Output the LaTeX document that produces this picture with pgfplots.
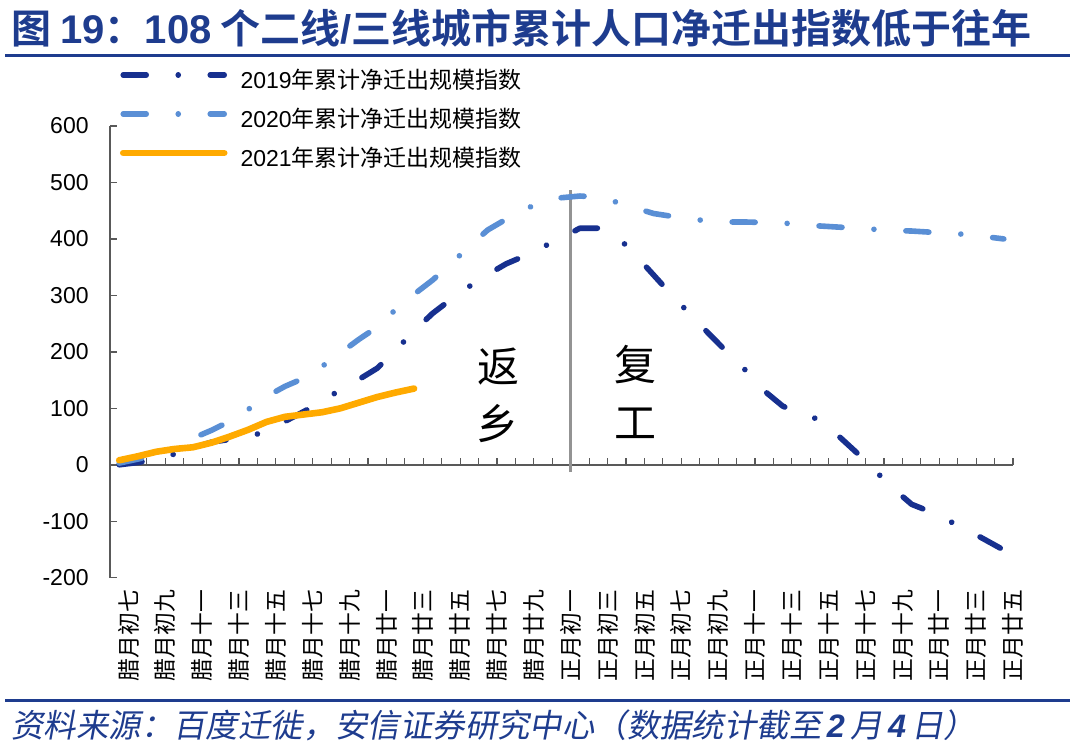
\documentclass[border=0pt]{standalone}
\usepackage{fontspec}
\usepackage{pgfplots}
\pgfplotsset{compat=1.18}
\setmainfont{Liberation Sans}
\newfontfamily\cjk{Noto Sans CJK SC}[BoldFont={Noto Sans CJK SC Bold}]
\newfontfamily\cjkit{Noto Sans CJK SC}[FakeSlant=0.18]
\definecolor{titleblue}{HTML}{1E3C8E}
\definecolor{cA}{HTML}{17308F}
\definecolor{cB}{HTML}{5A8FD5}
\definecolor{cC}{HTML}{FFAA00}
\definecolor{axisgray}{HTML}{595959}
\pgfplotstableread{
i v
0 0
1 4
2 10
3 19
4 30
5 40
6 45
7 49
8 60
9 77
10 94
11 112
12 133
13 151
14 171
15 203
16 237
17 268
18 293
19 316
20 337
21 356
22 370
23 386
24 402
25 419
26 419
27 405
28 372
29 336
30 300
31 266
32 232
33 199
34 167
35 131
36 104
37 90
38 80
39 52
40 22
41 -10
42 -42
43 -70
44 -83
45 -99
46 -115
47 -133
48 -151
}\tA
\pgfplotstableread{
i v
0 3
1 10
2 18
3 30
4 47
5 61
6 77
7 98
8 121
9 139
10 153
11 174
12 198
13 222
14 244
15 275
16 302
17 327
18 356
19 387
20 416
21 435
22 453
23 465
24 473
25 476
26 474
27 465
28 455
29 445
30 440
31 435
32 432
33 430
34 430
35 429
36 428
37 426
38 423
39 421
40 419
41 417
42 415
43 414
44 412
45 410
46 408
47 404
48 400
}\tB
\pgfplotstableread{
i v
0 8
1 15
2 23
3 28
4 31
5 39
6 50
7 62
8 76
9 85
10 89
11 93
12 100
13 110
14 120
15 128
16 135
}\tC
\begin{document}
\begin{tikzpicture}
\useasboundingbox (0pt,0pt) rectangle (540pt,372.5pt);
% title and rules
\node[anchor=west, inner sep=0pt, text=titleblue] at (5.5pt,358.5pt)
  {\fontsize{20}{23}\selectfont\bfseries{\cjk 图\ }19{\cjk ：}108{\cjk\ 个二线}/{\cjk 三线城市累计人口净迁出指数低于往年}};
\draw[titleblue, line width=1.5pt] (2.5pt,344.5pt) -- (535pt,344.5pt);
\draw[titleblue, line width=1.5pt] (2.5pt,22.5pt) -- (535pt,22.5pt);
\node[anchor=west, inner sep=0pt, text=titleblue] at (5.5pt,10pt)
  {\fontsize{16.2}{19}\selectfont{\cjkit 资料来源：百度迁徙，安信证券研究中心（数据统计截至}\,{\bfseries\itshape 2}\,{\cjkit 月}\,{\bfseries\itshape 4}\,{\cjkit 日）}};
\begin{axis}[
  at={(55pt,83.65pt)}, anchor=south west,
  scale only axis, width=451.5pt, height=225.85pt,
  xmin=-0.5, xmax=48.5, ymin=-200, ymax=600,
  axis x line*=bottom, axis y line*=left,
  x axis line style={draw=none},
  y axis line style={draw=axisgray, line width=0.7pt},
  xtick={0.5,2.5,...,48.5},
  xticklabels={腊月初七,腊月初九,腊月十一,腊月十三,腊月十五,腊月十七,腊月十九,腊月廿一,腊月廿三,腊月廿五,腊月廿七,腊月廿九,正月初一,正月初三,正月初五,正月初七,正月初九,正月十一,正月十三,正月十五,正月十七,正月十九,正月廿一,正月廿三,正月廿五},
  xtick style={draw=none},
  ytick={-200,-100,0,100,200,300,400,500,600},
  yticklabels={-200,-100,0,100,200,300,400,500,600},
  ytick style={draw=axisgray, line width=0.7pt},
  tick align=inside, major tick length=3.3pt,
  xticklabel style={font=\cjk\fontsize{11.4}{12}\selectfont, yshift=-6pt, rotate=90, anchor=east, inner sep=0pt, text=black},
  yticklabel style={font=\fontsize{11.5}{13}\selectfont, anchor=east, inner sep=0pt, xshift=-10.5pt, text=black},
  clip=false,
  legend style={at={(0.011,1.122)}, anchor=north west, draw=none, fill=none,
    inner sep=0pt, outer sep=0pt, font=\fontsize{11.5}{13}\selectfont, row sep=7.5pt,
    nodes={inner sep=0pt, text height=9pt, text depth=3pt},
    /tikz/every odd column/.append style={column sep=6.5pt}},
  legend cell align=left,
  legend image code/.code={\draw[#1] (0pt,4pt) -- (50.5pt,4pt);},
]
\draw[axisgray, line width=0.8pt] (axis cs:-0.5,0) -- (axis cs:48.5,0);
\pgfplotsinvokeforeach{-0.5,0.5,...,48.5}{\draw[axisgray, line width=0.6pt] (axis cs:#1,0) -- ++(0pt,3.3pt);}
\draw[gray!85, line width=1.7pt] (axis cs:24.5,-13) -- (axis cs:24.5,486);
\addplot[cA, line width=2.8pt, line cap=round, line join=round, dash pattern=on 11.5pt off 16pt on 0.01pt off 16pt] table[x=i,y=v] {\tA};
\addlegendentry{2019{\cjk 年累计净迁出规模指数}}
\addplot[cB, line width=2.8pt, line cap=round, line join=round, dash pattern=on 11.5pt off 16pt on 0.01pt off 16pt] table[x=i,y=v] {\tB};
\addlegendentry{2020{\cjk 年累计净迁出规模指数}}
\addplot[cC, line width=3.3pt, line cap=round, line join=round] table[x=i,y=v] {\tC};
\addlegendentry{2021{\cjk 年累计净迁出规模指数}}
\end{axis}
\node[inner sep=0pt] at (249pt,189pt) {\cjk\fontsize{21}{24}\selectfont 返};
\node[inner sep=0pt] at (248.5pt,160.5pt) {\cjk\fontsize{21}{24}\selectfont 乡};
\node[inner sep=0pt] at (317.5pt,190pt) {\cjk\fontsize{21}{24}\selectfont 复};
\node[inner sep=0pt] at (317.5pt,161pt) {\cjk\fontsize{21}{24}\selectfont 工};
\end{tikzpicture}
\end{document}
